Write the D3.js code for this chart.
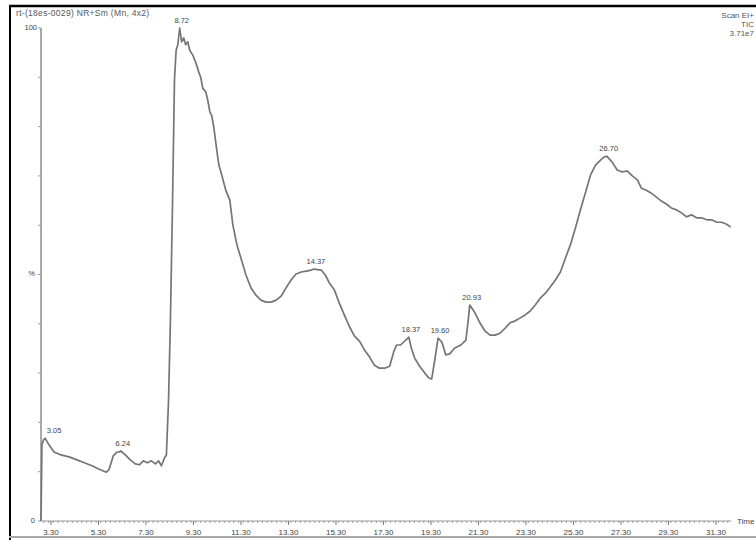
<!DOCTYPE html>
<html>
<head>
<meta charset="utf-8">
<script src="https://cdn.jsdelivr.net/npm/d3@7"></script>
<style>
  body { margin: 0; background: #fff; }
  svg { display: block; font-family: "Liberation Sans", Arial, sans-serif; }
</style>
</head>
<body>
<div id="chart"></div>
<script>
// TIC trace: retention time (min), relative abundance (%)
const times = [2.88, 2.92, 2.98, 3.05, 3.22, 3.43, 3.72, 4.06, 4.40, 4.70, 5.03, 5.33, 5.63, 5.75, 5.92,
  6.09, 6.18, 6.24, 6.43, 6.64, 6.85, 7.02, 7.19, 7.36, 7.53, 7.70, 7.83, 7.95, 8.08, 8.16,
  8.25, 8.33, 8.42, 8.50, 8.57, 8.64, 8.72, 8.80, 8.89, 8.97, 9.06, 9.14, 9.27, 9.39, 9.52,
  9.61, 9.69, 9.82, 9.90, 9.99, 10.07, 10.16, 10.28, 10.37, 10.49, 10.66, 10.83, 10.96, 11.13,
  11.30, 11.51, 11.72, 11.93, 12.14, 12.35, 12.57, 12.78, 12.99, 13.20, 13.41, 13.62, 13.84,
  14.05, 14.26, 14.37, 14.68, 14.85, 15.02, 15.23, 15.44, 15.65, 15.87, 16.08, 16.29, 16.50,
  16.71, 16.92, 17.13, 17.35, 17.56, 17.73, 17.85, 18.02, 18.37, 18.46, 18.61, 18.82, 19.04,
  19.21, 19.33, 19.46, 19.60, 19.76, 19.92, 20.09, 20.30, 20.56, 20.77, 20.88, 20.93, 21.13,
  21.36, 21.58, 21.79, 22.00, 22.21, 22.42, 22.63, 22.85, 23.06, 23.27, 23.48, 23.69, 23.90,
  24.12, 24.33, 24.54, 24.75, 24.96, 25.17, 25.38, 25.59, 25.81, 26.02, 26.23, 26.44, 26.58,
  26.70, 26.93, 27.14, 27.35, 27.56, 27.78, 27.99, 28.16, 28.37, 28.58, 28.79, 29.00, 29.21,
  29.42, 29.64, 29.85, 30.06, 30.27, 30.48, 30.69, 30.91, 31.12, 31.33, 31.54, 31.75, 31.92];
const abundance = [0, 15.4, 16.4, 16.8, 15.4, 14.0, 13.4, 13.0, 12.4, 11.8, 11.2, 10.5, 9.9, 10.5, 13.2,
  14.0, 14.0, 14.2, 13.4, 12.4, 11.6, 11.4, 12.2, 11.8, 12.2, 11.6, 12.2, 11.2, 12.8, 13.4,
  24.5, 40.8, 65.1, 89.5, 95.5, 96.6, 100, 97.2, 98.0, 96.6, 97.2, 95.5, 94.5, 93.1, 91.1,
  89.9, 87.8, 87.0, 85.4, 83.0, 82.2, 79.7, 75.3, 72.2, 70.2, 67.1, 65.1, 60.0, 56.0,
  53.3, 49.9, 47.3, 45.8, 44.8, 44.4, 44.4, 44.8, 45.6, 47.3, 48.9, 50.1, 50.5,
  50.7, 50.9, 51.1, 50.9, 49.9, 48.3, 46.9, 44.2, 41.8, 39.4, 37.5, 36.5, 34.7,
  33.3, 31.6, 31.0, 31.0, 31.4, 34.3, 35.7, 35.7, 37.3, 35.3, 33.1, 31.4, 30.0,
  29.0, 28.8, 32.7, 37.1, 36.3, 33.7, 33.9, 35.1, 35.7, 36.7, 41.2, 43.8, 42.4,
  40.2, 38.5, 37.7, 37.7, 38.1, 39.1, 40.2, 40.6, 41.2, 41.8, 42.6, 43.8, 45.2,
  46.2, 47.5, 48.9, 50.5, 53.3, 56.0, 59.4, 63.1, 66.7, 70.2, 72.2, 73.2, 73.8,
  74.0, 72.8, 71.2, 70.8, 71.0, 70.0, 69.2, 67.5, 67.1, 66.5, 65.7, 64.9, 64.3,
  63.5, 63.1, 62.5, 61.7, 62.1, 61.5, 61.5, 61.1, 61.1, 60.6, 60.6, 60.2, 59.6];

const peakTimes = [3.05, 6.24, 8.72, 14.37, 18.37, 19.60, 20.93, 26.70];
const peakLabels = ["3.05", "6.24", "8.72", "14.37", "18.37", "19.60", "20.93", "26.70"];
const xTickValues = [3.3, 5.3, 7.3, 9.3, 11.3, 13.3, 15.3, 17.3, 19.3, 21.3, 23.3, 25.3, 27.3, 29.3, 31.3];
const xTickLabels = ["3.30", "5.30", "7.30", "9.30", "11.30", "13.30", "15.30", "17.30",
  "19.30", "21.30", "23.30", "25.30", "27.30", "29.30", "31.30"];

const W = 756, H = 540;
const svg = d3.select("#chart").append("svg")
  .attr("width", W).attr("height", H);

// frame round the plot window
svg.append("line").attr("x1", 10).attr("x2", 10).attr("y1", 5).attr("y2", H)
  .attr("stroke", "#000").attr("stroke-width", 2);
svg.append("line").attr("x1", 9).attr("x2", W).attr("y1", 6).attr("y2", 6)
  .attr("stroke", "#000").attr("stroke-width", 2.5);
svg.append("line").attr("x1", 9).attr("x2", W).attr("y1", 537).attr("y2", 537)
  .attr("stroke", "#aaa").attr("stroke-width", 2);

const x = d3.scaleLinear().domain([2.88, 31.95]).range([41, 731.4]);
const y = d3.scaleLinear().domain([0, 100]).range([521, 28]);

const data = times.map((t, i) => ({ t: t, v: abundance[i] }));

// axes
const g = svg.append("g");
g.append("line").attr("x1", x(2.88)).attr("x2", x(31.95)).attr("y1", y(0)).attr("y2", y(0))
  .attr("stroke", "#999").attr("stroke-width", 1.2);
g.append("line").attr("x1", 41).attr("x2", 41).attr("y1", y(100)).attr("y2", y(0))
  .attr("stroke", "#aaa").attr("stroke-width", 2);

// minor x ticks every 0.2 min, bigger every 1 min
const minor = d3.range(3.0, 31.95, 0.2);
g.selectAll(".mt").data(minor).join("line")
  .attr("x1", d => x(d)).attr("x2", d => x(d))
  .attr("y1", y(0)).attr("y2", y(0) + 2)
  .attr("stroke", "#888").attr("stroke-width", 0.8);
g.selectAll(".Mt").data(xTickValues).join("line")
  .attr("x1", d => x(d)).attr("x2", d => x(d))
  .attr("y1", y(0)).attr("y2", y(0) + 4)
  .attr("stroke", "#777").attr("stroke-width", 1);
g.selectAll(".xl").data(xTickValues).join("text")
  .attr("x", d => x(d)).attr("y", 535)
  .attr("text-anchor", "middle")
  .attr("font-size", 8).attr("fill", "#444")
  .text((d, i) => xTickLabels[i]);

// y ticks every 10 %
g.selectAll(".yt").data(d3.range(0, 101, 10)).join("line")
  .attr("x1", 38).attr("x2", 41)
  .attr("y1", d => y(d)).attr("y2", d => y(d))
  .attr("stroke", "#999").attr("stroke-width", 1);
g.append("text").attr("x", 37).attr("y", y(100) + 2).attr("text-anchor", "end")
  .attr("font-size", 7.5).attr("fill", "#444").text("100");
g.append("text").attr("x", 35).attr("y", y(0) + 2).attr("text-anchor", "end")
  .attr("font-size", 7.5).attr("fill", "#444").text("0");
g.append("text").attr("x", 35).attr("y", y(50) + 1).attr("text-anchor", "end")
  .attr("font-size", 7.5).attr("fill", "#444").text("%");
g.append("text").attr("x", 737).attr("y", y(0) + 3)
  .attr("font-size", 8).attr("fill", "#444").text("Time");

// header texts
const head = svg.append("g").attr("font-size", 8.5).attr("fill", "#555")
  .attr("letter-spacing", 0.3);
head.append("text").attr("x", 16).attr("y", 16).text("rt-(18es-0029) NR+Sm (Mn, 4x2)");
const right = svg.append("g").attr("font-size", 8).attr("fill", "#555")
  .attr("text-anchor", "end");
right.append("text").attr("x", 754).attr("y", 18).text("Scan EI+");
right.append("text").attr("x", 754).attr("y", 27).text("TIC");
right.append("text").attr("x", 754).attr("y", 36).text("3.71e7");

// trace
const line = d3.line().x(d => x(d.t)).y(d => y(d.v));
svg.append("path").datum(data)
  .attr("d", line)
  .attr("fill", "none")
  .attr("stroke", "#757575")
  .attr("stroke-width", 1.7)
  .attr("stroke-linejoin", "round");

// peak labels
const bis = d3.bisector(d => d.t).left;
svg.selectAll(".pk").data(peakTimes).join("text")
  .attr("x", (d, i) => x(d) + (i === 0 ? 9 : 2))
  .attr("y", d => {
    const j = Math.min(bis(data, d), data.length - 1);
    return y(data[j].v) - 5;
  })
  .attr("text-anchor", "middle")
  .attr("font-size", 7.5).attr("fill", "#444")
  .text((d, i) => peakLabels[i]);
</script>
</body>
</html>
